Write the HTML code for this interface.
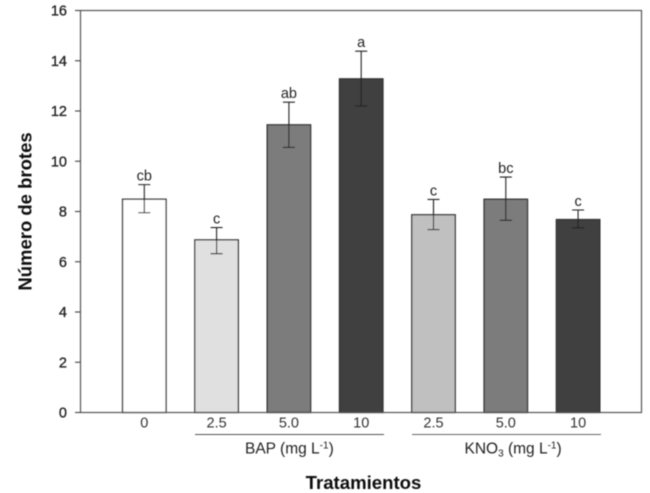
<!DOCTYPE html>
<html lang="es">
<head>
<meta charset="utf-8">
<title>Número de brotes</title>
<style>
html,body{margin:0;padding:0;background:#fff;}
svg{display:block;}
text{font-family:"Liberation Sans",sans-serif;}
</style>
</head>
<body>
<svg id="chart" xmlns="http://www.w3.org/2000/svg" width="650" height="493" viewBox="0 0 650 493">
  <defs>
    <filter id="soft" x="-5%" y="-5%" width="110%" height="110%"><feGaussianBlur stdDeviation="0.45"/></filter>
  </defs>
  <g id="root" filter="url(#soft)"></g>
</svg>
<script>
const categories = ['0', '2.5', '5.0', '10', '2.5', '5.0', '10'];
const means = [8.49, 6.87, 11.45, 13.28, 7.87, 8.49, 7.68];
const errorUpper = [9.07, 7.36, 12.35, 14.38, 8.48, 9.37, 8.06];
const errorLower = [7.95, 6.32, 10.55, 12.2, 7.28, 7.65, 7.35];
const significance = ['cb', 'c', 'ab', 'a', 'c', 'bc', 'c'];
const yTicks = [0, 2, 4, 6, 8, 10, 12, 14, 16];

const barFills = ['#ffffff', '#e0e0e0', '#7c7c7c', '#404040', '#c0c0c0', '#7c7c7c', '#404040'];
const NS = 'http://www.w3.org/2000/svg';
const root = document.getElementById('root');
const plot = { left: 80.5, right: 641.5, top: 10.5, bottom: 412.5 };
const yMax = 16;

function yScale(v) {
  return plot.bottom - (v / yMax) * (plot.bottom - plot.top);
}
function xScale(i) {
  return 144.3 + i * 72.3;
}
function make(tag, attrs, parent) {
  const el = document.createElementNS(NS, tag);
  for (const k in attrs) el.setAttribute(k, attrs[k]);
  (parent || root).appendChild(el);
  return el;
}

const barWidth = 43.5;

categories.forEach(function (cat, i) {
  const cx = xScale(i);
  const top = yScale(means[i]);
  const bar = make('rect', { x: cx - barWidth / 2, y: top, width: barWidth, height: plot.bottom - top, fill: barFills[i], stroke: '#333', 'stroke-width': 1.3 });
  
  

  const err = make('path', {
    d: 'M' + (cx - 6) + ' ' + yScale(errorUpper[i]) + 'H' + (cx + 6) +
       'M' + cx + ' ' + yScale(errorUpper[i]) + 'V' + yScale(errorLower[i]) +
       'M' + (cx - 6) + ' ' + yScale(errorLower[i]) + 'H' + (cx + 6),
    fill: 'none', stroke: '#222', 'stroke-width': 1.1
  });
  
  

  const sig = make('text', { x: cx, y: yScale(errorUpper[i]) - 4, 'text-anchor': 'middle', 'font-size': 14.5, fill: '#222' });
  sig.textContent = significance[i];
  
  

  const label = make('text', { x: cx, y: 427.5, 'text-anchor': 'middle', 'font-size': 14.5, fill: '#333' });
  label.textContent = cat;
  
  
});

const frame = make('rect', { x: plot.left, y: plot.top, width: plot.right - plot.left, height: plot.bottom - plot.top, fill: 'none', stroke: '#555', 'stroke-width': 1.2 });



yTicks.forEach(function (t) {
  const y = yScale(t);
  const tick = make('line', { x1: 75, x2: plot.left, y1: y, y2: y, stroke: '#444', 'stroke-width': 1.1 });
  
  
  const lab = make('text', { x: 67, y: y + 5.2, 'text-anchor': 'end', 'font-size': 14.5, fill: '#222', stroke: '#222', 'stroke-width': 0.3 });
  lab.textContent = t;
  
  
});

const bapLine = make('line', { x1: 195, x2: 384, y1: 434.5, y2: 434.5, stroke: '#555', 'stroke-width': 1 });


const kno3Line = make('line', { x1: 412, x2: 601, y1: 434.5, y2: 434.5, stroke: '#666', 'stroke-width': 1 });



function span(parent, txt, dy, size) {
  const s = make('tspan', { dy: dy }, parent);
  if (size) s.setAttribute('font-size', size);
  s.textContent = txt;
}

const bap = make('text', { x: 245, y: 453.5, 'font-size': 15.5, fill: '#222' });


span(bap, 'BAP (mg L', 0);
span(bap, '-1', -5, 10);
span(bap, ')', 5);

const kno = make('text', { x: 464.5, y: 453.5, 'font-size': 15.5, fill: '#222' });


span(kno, 'KNO', 0);
span(kno, '3', 3, 10);
span(kno, ' (mg L', -3);
span(kno, '-1', -5, 10);
span(kno, ')', 5);

const xTitle = make('text', { x: 363.5, y: 489, 'text-anchor': 'middle', 'font-size': 18.6, 'font-weight': 'bold', fill: '#111' });
xTitle.textContent = 'Tratamientos';



const yTitle = make('text', { transform: 'translate(31.5 211.5) rotate(-90)', 'text-anchor': 'middle', 'font-size': 18.5, 'font-weight': 'bold', fill: '#111' });
yTitle.textContent = 'Número de brotes';


</script>
</body>
</html>
